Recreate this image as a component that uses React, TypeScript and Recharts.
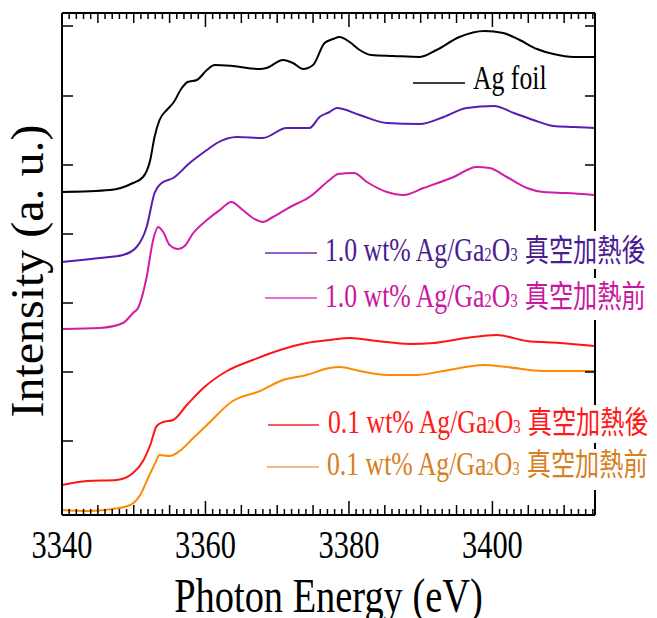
import React from 'react';
import { LineChart, Line, XAxis, YAxis, Legend, Label } from 'recharts';

// [photon energy (eV), intensity (a.u., stacked)]
const agFoil: [number, number][] = [
  [3340, 323], [3346.7, 325], [3349.9, 332], [3351.3, 338], [3352.3, 355], [3352.9, 378],
  [3353.6, 395], [3354.6, 405], [3355.5, 412], [3356.7, 427], [3357.5, 433], [3358.8, 435],
  [3360.2, 445], [3361.3, 450], [3363.8, 449], [3367.6, 446], [3368.5, 447], [3370.8, 455],
  [3372.2, 452], [3373.6, 446], [3375, 450], [3376.6, 472], [3377.8, 476], [3378.7, 478],
  [3380.1, 473], [3381.5, 465], [3383.1, 460], [3386.2, 459], [3389.9, 458], [3392.2, 465],
  [3395.4, 478], [3398.9, 484], [3401.5, 482], [3403.8, 475], [3406.2, 466], [3408.5, 461],
  [3411.3, 458], [3414.2, 458],
];

const ag10After: [number, number][] = [
  [3340, 253], [3345.3, 257], [3348.5, 260], [3350.4, 268], [3351.8, 288], [3352.9, 322],
  [3353.9, 332], [3355.5, 337], [3357.8, 352], [3360.2, 365], [3361.6, 372], [3364.4, 378],
  [3368, 377], [3371.3, 387], [3374.5, 387], [3375.9, 398], [3377.3, 403], [3378.3, 407],
  [3381.5, 400], [3385.3, 392], [3389.9, 391], [3393.2, 398], [3396.4, 407], [3400.2, 409],
  [3403, 402], [3405.7, 395], [3408.5, 389], [3411.3, 388], [3414.2, 387],
];

const ag10Before: [number, number][] = [
  [3340, 186], [3345.3, 187], [3348.5, 192], [3349.9, 202], [3350.6, 207], [3351.8, 238],
  [3352.7, 275], [3353.4, 288], [3354.1, 283], [3355, 270], [3356.2, 266], [3357.1, 269],
  [3358.3, 282], [3360.2, 295], [3362, 305], [3363.6, 313], [3365.2, 305], [3366.6, 297],
  [3368, 293], [3369.4, 298], [3371.8, 308], [3374.5, 318], [3377.3, 335], [3378.5, 341],
  [3380.7, 342], [3382.5, 333], [3385.3, 323], [3387.6, 320], [3390.4, 327], [3394.6, 338],
  [3397.8, 348], [3399.6, 347], [3402, 338], [3404.8, 327], [3407.1, 323], [3410.3, 322],
  [3414.2, 320],
];

const ag01After: [number, number][] = [
  [3340, 30], [3343.5, 34], [3347.6, 35], [3349.9, 42], [3351.3, 54], [3352.3, 70],
  [3353.2, 89], [3354.1, 93], [3355.5, 95], [3357.4, 110], [3359.7, 127], [3363, 144],
  [3366.6, 155], [3370.4, 165], [3374.1, 172], [3377.3, 175], [3380.1, 177], [3383.9, 174],
  [3388.5, 171], [3391.8, 172], [3396.4, 177], [3400.6, 180], [3404.8, 174], [3409.4, 172],
  [3414.2, 169],
];

const ag01Before: [number, number][] = [
  [3340, 5], [3343.5, 4], [3347.1, 6], [3349.5, 10], [3350.9, 20], [3352, 37], [3353, 52],
  [3353.6, 60], [3355, 59], [3356.4, 64], [3358.3, 77], [3360.2, 90], [3363.8, 114],
  [3367.6, 124], [3370.8, 135], [3374.1, 140], [3377.3, 147], [3378.7, 148], [3381.5, 144],
  [3385.3, 140], [3389.4, 140], [3393.2, 144], [3398.8, 150], [3402, 148], [3407.1, 144],
  [3414.2, 144],
];

const seriesNames = ['Ag foil', '1.0 wt% 真空加熱後', '1.0 wt% 真空加熱前', '0.1 wt% 真空加熱後', '0.1 wt% 真空加熱前'];
const loadings = ['', '1.0', '1.0', '0.1', '0.1'];
const conditions = ['', '真空加熱後', '真空加熱前', '真空加熱後', '真空加熱前'];
const lineColors = ['#000000', '#5a1bb0', '#d21ba8', '#ff1414', '#ff8a00'];
const textColors = ['#000000', '#4a1c94', '#c8189f', '#ff1a1a', '#d6801e'];
const legendLineColors = ['#000000', '#6a2cc0', '#e040c0', '#ff2020', '#e8a458'];

const majorTicks = [3340, 3360, 3380, 3400];
const xTicks = Array.from({ length: 75 }, (_, i) => 3340 + i);
const yTicks = [74, 143, 212, 281, 350, 419, 489];

const allData = [agFoil, ag10After, ag10Before, ag01After, ag01Before].map((arr) =>
  arr.map(([e, v]) => ({ e, v }))
);

const SERIF = '"Liberation Serif", "Times New Roman", serif';
const CJK = '"Noto Sans CJK TC", "Noto Sans CJK SC", sans-serif';

const tickLen = (v: number) => (majorTicks.includes(v) ? 14 : v % 5 === 0 ? 10 : 6);

const BottomTick = (props: any) => {
  const { x, y, payload } = props;
  const v = payload.value;
  return (
    <g>
      <line x1={x} x2={x} y1={y} y2={y - tickLen(v)} stroke="#000" strokeWidth={1.5} />
      {majorTicks.includes(v) && (
        <text
          transform={`translate(${x},${y + 43}) scale(0.78,1)`}
          textAnchor="middle"
          fontFamily={SERIF}
          fontSize={39}
          fill="#000"
        >
          {v}
        </text>
      )}
    </g>
  );
};

const TopTick = (props: any) => {
  const { x, y, payload } = props;
  const v = payload.value;
  return <line x1={x} x2={x} y1={y} y2={y + tickLen(v)} stroke="#000" strokeWidth={1.5} />;
};

const LeftTick = (props: any) => {
  const { x, y } = props;
  return <line x1={x} x2={x + 11} y1={y} y2={y} stroke="#000" strokeWidth={1.5} />;
};

const RightTick = (props: any) => {
  const { x, y } = props;
  return <line x1={x} x2={x - 10} y1={y} y2={y} stroke="#000" strokeWidth={1.5} />;
};

const XTitle = (props: any) => {
  const vb = props.viewBox;
  const cx = vb.x + vb.width / 2;
  return (
    <text
      transform={`translate(${cx},${vb.y + 97}) scale(0.8,1)`}
      textAnchor="middle"
      fontFamily={SERIF}
      fontSize={48}
      fill="#000"
    >
      Photon Energy (eV)
    </text>
  );
};

const YTitle = (props: any) => {
  const vb = props.viewBox;
  const cy = vb.y + vb.height / 2 + 7;
  return (
    <text
      transform={`translate(${vb.x + vb.width - 19},${cy}) scale(0.95,1) rotate(-90)`}
      textAnchor="middle"
      fontFamily={SERIF}
      fontSize={48}
      fill="#000"
    >
      Intensity (a. u.)
    </text>
  );
};

// legend layout: [lineX1, lineX2, lineY, textX, baseline]
const legendPos: number[][] = [
  [413, 465, 83, 473, 89],
  [265, 317, 253, 325, 261],
  [265, 317, 298, 325, 307],
  [268, 319, 425, 328, 433],
  [267, 319, 467, 327, 475],
];
const legendBg: number[][] = [
  [320, 231, 337, 38],
  [320, 278, 337, 42],
  [322, 405, 335, 38],
  [322, 449, 335, 41],
];

const renderLegend = () => (
  <svg width={657} height={618} style={{ position: 'absolute', left: 0, top: 0 }}>
    {legendBg.map((r, i) => (
      <rect key={'bg' + i} x={r[0]} y={r[1]} width={r[2]} height={r[3]} fill="#fff" />
    ))}
    {seriesNames.map((name, i) => {
      const [lx1, lx2, ly, tx, ty] = legendPos[i];
      return (
        <g key={name}>
          <line x1={lx1} x2={lx2} y1={ly} y2={ly} stroke={legendLineColors[i]} strokeWidth={1.3} />
          <text
            transform={`translate(${tx},${ty}) scale(0.78,1)`}
            fontFamily={SERIF}
            fontSize={33}
            fill={textColors[i]}
          >
            {i === 0 ? (
              name
            ) : (
              <>
                <tspan>{`${loadings[i]} wt% Ag/Ga`}</tspan>
                <tspan fontSize={19}>2</tspan>
                <tspan>O</tspan>
                <tspan fontSize={19}>3</tspan>
                <tspan fontFamily={CJK} fontSize={31} dx={9}>
                  {conditions[i]}
                </tspan>
              </>
            )}
          </text>
        </g>
      );
    })}
  </svg>
);

const axisCommon = {
  type: 'number' as const,
  allowDataOverflow: true,
  interval: 0 as const,
  tickLine: false,
  tickSize: 0,
  tickMargin: 0,
  axisLine: { stroke: '#000', strokeWidth: 2 },
};

export default function App() {
  return (
    <div style={{ position: 'absolute', left: 0, top: 0, background: '#fff' }}>
      <LineChart width={657} height={618} margin={{ top: 12, right: 61, bottom: 102, left: 61 }}>
        <XAxis
          {...axisCommon}
          xAxisId="b"
          dataKey="e"
          domain={[3340, 3414.3]}
          ticks={xTicks}
          tick={<BottomTick />}
          height={1}
          label={<Label content={<XTitle />} />}
        />
        <XAxis
          {...axisCommon}
          xAxisId="t"
          orientation="top"
          dataKey="e"
          domain={[3340, 3414.3]}
          ticks={xTicks}
          tick={<TopTick />}
          height={1}
        />
        <YAxis
          {...axisCommon}
          yAxisId="l"
          domain={[0, 502]}
          ticks={yTicks}
          tick={<LeftTick />}
          width={1}
          label={<Label content={<YTitle />} />}
        />
        <YAxis
          {...axisCommon}
          yAxisId="r"
          orientation="right"
          domain={[0, 502]}
          ticks={yTicks}
          tick={<RightTick />}
          width={1}
        />
        {allData.map((d, i) => (
          <Line
            key={seriesNames[i]}
            name={seriesNames[i]}
            data={d}
            dataKey="v"
            xAxisId="b"
            yAxisId="l"
            type="monotone"
            stroke={lineColors[i]}
            strokeWidth={2}
            dot={false}
            activeDot={false}
            isAnimationActive={false}
          />
        ))}
        <Legend
          layout="horizontal"
          verticalAlign="middle"
          align="center"
          content={renderLegend}
          wrapperStyle={{ left: 0, top: 0, width: 657, height: 618, pointerEvents: 'none' }}
        />
      </LineChart>
    </div>
  );
}
